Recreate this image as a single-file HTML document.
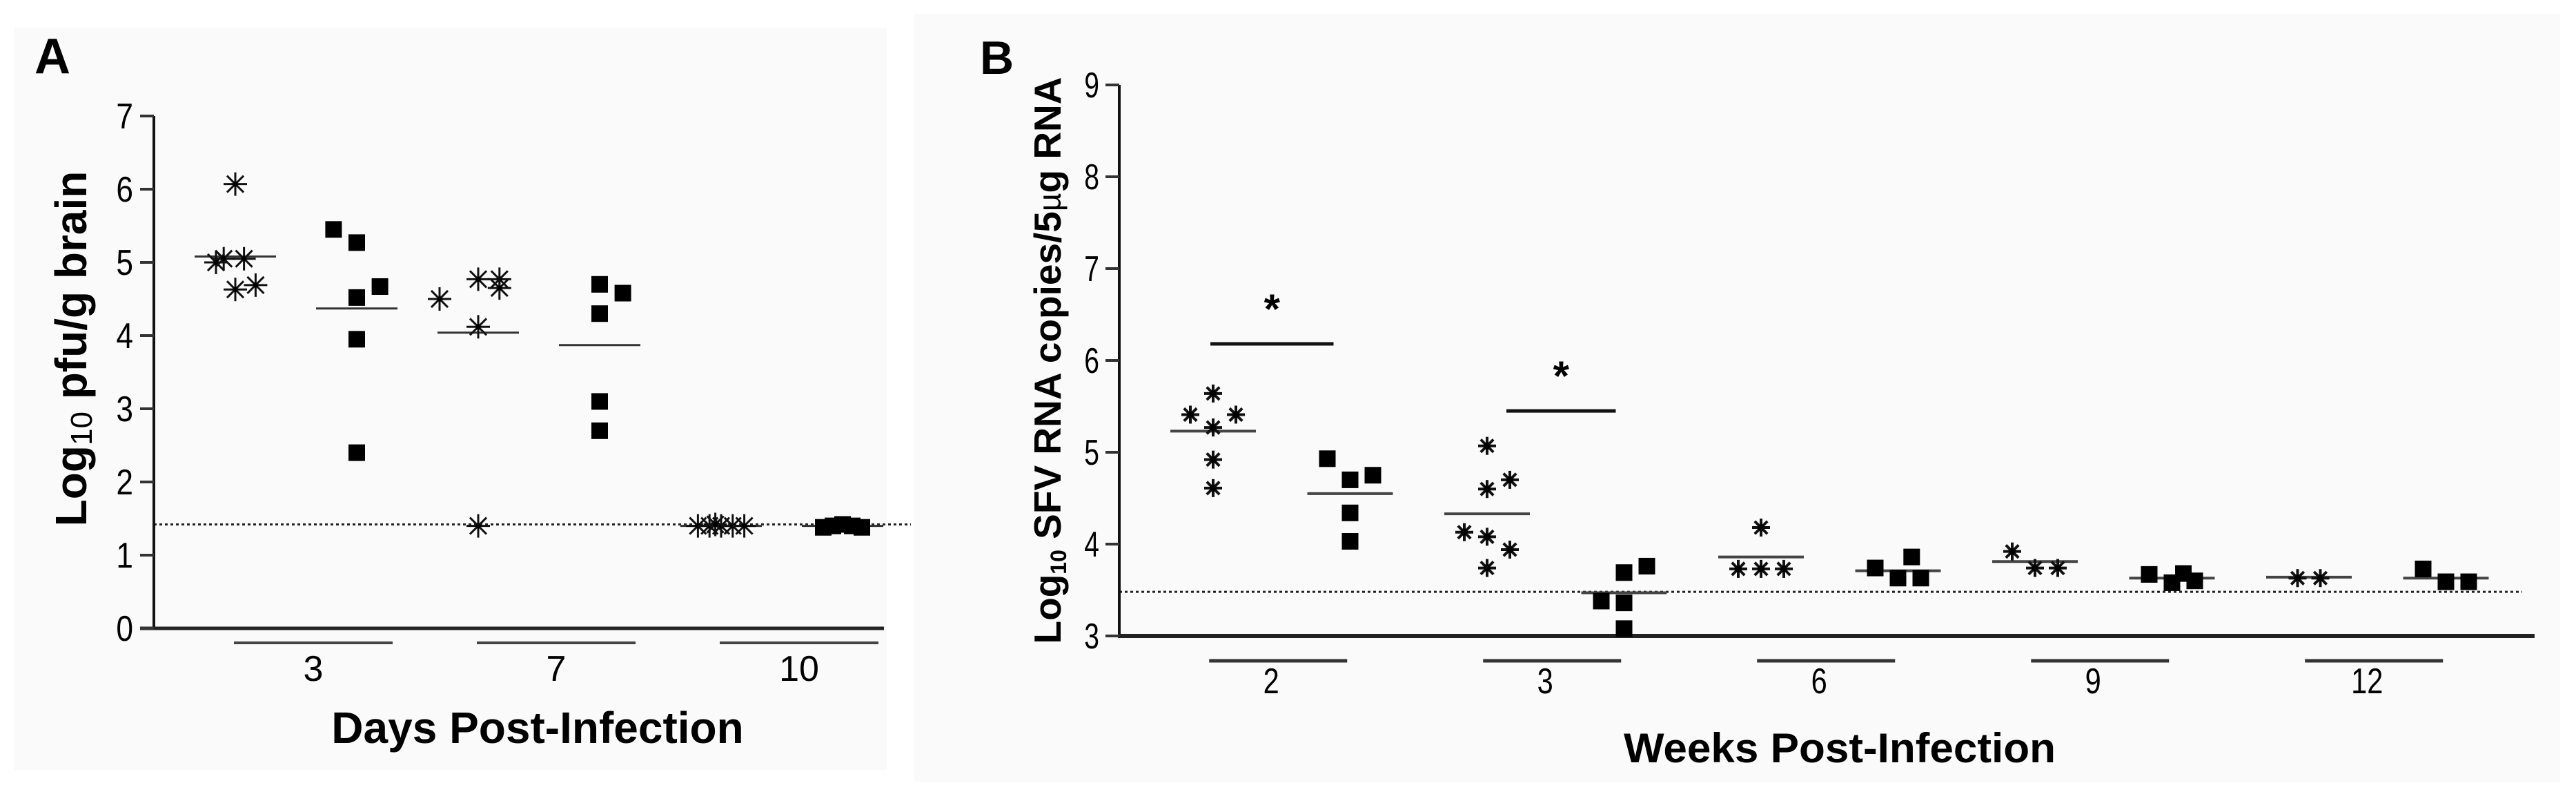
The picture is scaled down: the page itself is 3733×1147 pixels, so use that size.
<!DOCTYPE html>
<html><head><meta charset="utf-8"><style>
html,body{margin:0;padding:0;background:#fff;width:3733px;height:1147px;overflow:hidden}
svg{display:block;font-family:"Liberation Sans",Arial,sans-serif}
</style></head><body>
<svg id="fig" width="3733" height="1147" viewBox="0 0 3733 1147">
<rect x="20" y="40" width="1265" height="1075" fill="#fafafa"/>
<rect x="1325" y="20" width="2385" height="1112" fill="#fafafa"/>
<g id="pa"></g>
<g id="pb"></g>
</svg>
<script>
// ---- Panel A data ----
const aDays = ["3","7","10"];
const aGroupType = ["star","square","star","square","star","square"];
const aValues = [
  [6.07,5.0,5.05,5.05,4.63,4.69],
  [5.45,5.27,4.52,4.67,3.95,2.4],
  [4.5,4.77,4.77,4.65,4.12,1.4],
  [4.7,4.58,4.3,3.1,2.7],
  [1.4,1.4,1.4,1.4,1.4,1.42],
  [1.38,1.4,1.42,1.4,1.38]
];
const aMeans = [5.08,4.37,4.04,3.87,1.4,1.4];
const aJitter = [[0,-1,-0.6,0.45,0,1.05],[-1.2,0,0,1.2,0,0],[-2,0,1.1,1.1,0,0],[0,1.2,0,0,0],[-1.2,-0.6,0,0.6,1.2,-0.3],[-1,-0.5,0,0.5,1]];
const aTicks = [0,1,2,3,4,5,6,7];
const aDetect = 1.42;
// ---- Panel B data ----
const bWeeks = ["2","3","6","9","12"];
const bValues = [
  [5.64,5.41,5.41,5.27,4.92,4.61],
  [4.93,4.75,4.70,4.34,4.03],
  [5.07,4.60,4.70,4.13,4.08,3.94,3.74],
  [3.76,3.69,3.38,3.36,3.08],
  [4.18,3.73,3.73,3.73],
  [3.74,3.86,3.63,3.63],
  [3.92,3.74,3.74],
  [3.67,3.68,3.58,3.60],
  [3.63,3.63],
  [3.73,3.59,3.59]
];
const bMeans = [5.23,4.55,4.33,3.47,3.86,3.71,3.81,3.63,3.64,3.63];
const bJitter = [[0,-1,1,0,0,0],[-1,1,0,0,0],[0,0,1,-1,0,1,0],[1,0,-1,0,0],[0,-1,0,1],[-1,0.6,0,1],[-1,0,1],[-1,0.5,0,1],[-0.5,0.5],[-1,0,1]];
const bTicks = [3,4,5,6,7,8,9];
const bDetect = 3.48;
const bSigY = [6.18,5.45];
const bSigGroups = [0,2];

const NS="http://www.w3.org/2000/svg";
function mk(parent,tag,attrs,text){const e=document.createElementNS(NS,tag);for(const k in attrs)e.setAttribute(k,attrs[k]);if(text!==undefined)e.textContent=text;parent.appendChild(e);return e;}
function star(g,cx,cy,r,w,name){
  const s=mk(g,"g",{});
  
  
  for(let i=0;i<4;i++){const a=i*Math.PI/4;mk(s,"line",{x1:cx-r*Math.cos(a),y1:cy-r*Math.sin(a),x2:cx+r*Math.cos(a),y2:cy+r*Math.sin(a),stroke:"#111","stroke-width":w});}
  mk(s,"circle",{cx:cx,cy:cy,r:w*1.2,fill:"#000"});
}
function square(g,cx,cy,sz,name){
  const r=mk(g,"rect",{x:cx-sz/2,y:cy-sz/2,width:sz,height:sz,fill:"#000"});
  
  
}

// ---- Panel A ----
(function(){
const g=document.getElementById("pa");
const ax0=223, ax1=1281, y0=910, unit=106;
const yA=v=>y0-v*unit;
const xA=i=>341+i*176;
const jw=28;
let t=mk(g,"text",{x:50,y:106,"font-size":72,"font-weight":"bold"},"A");

let dl=mk(g,"line",{x1:ax0,x2:1320,y1:yA(aDetect),y2:yA(aDetect),stroke:"#222","stroke-width":3,"stroke-dasharray":"4 4"});

let ya=mk(g,"line",{x1:ax0,x2:ax0,y1:yA(7),y2:y0+2,stroke:"#111","stroke-width":4});

let xa=mk(g,"line",{x1:ax0-20,x2:ax1,y1:y0,y2:y0,stroke:"#222","stroke-width":5});

aTicks.forEach(v=>{
  const tk=mk(g,"line",{x1:ax0-20,x2:ax0,y1:yA(v),y2:yA(v),stroke:"#333","stroke-width":4});
  
  const tl=mk(g,"text",{x:193,y:yA(v)+18,"font-size":52,"text-anchor":"end",transform:`translate(193,0) scale(0.85,1) translate(-193,0)`},String(v));
  
});
const yt=mk(g,"text",{x:0,y:0,"font-size":64,"font-weight":"bold","text-anchor":"middle",transform:"translate(125,505) rotate(-90)"});

mk(yt,"tspan",{},"Log");mk(yt,"tspan",{"font-size":44,"font-weight":"normal",dy:8},"10");mk(yt,"tspan",{dy:-8}," pfu/g brain");
aDays.forEach((d,k)=>{
  const c=(xA(2*k)+xA(2*k+1))/2+25;
  const l=mk(g,"line",{x1:c-115,x2:c+115,y1:931,y2:931,stroke:"#444","stroke-width":4});
  
  const tl=mk(g,"text",{x:c,y:986,"font-size":52,"text-anchor":"middle"},d);
  
});
const xt=mk(g,"text",{x:779,y:1076,"font-size":64,"font-weight":"bold","text-anchor":"middle"},"Days Post-Infection");

aValues.forEach((vals,i)=>{
  const cx=xA(i);
  const m=mk(g,"line",{x1:cx-59,x2:cx+59,y1:yA(aMeans[i]),y2:yA(aMeans[i]),stroke:"#333","stroke-width":3});
  
  vals.forEach((v,j)=>{
    const px=cx+aJitter[i][j]*jw, py=yA(v);
    if(aGroupType[i]==="star") star(g,px,py,17,3,'star-point-a'); else square(g,px,py,24,'square-point-a');
  });
});
})();

// ---- Panel B ----
(function(){
const g=document.getElementById("pb");
const ax0=1622, ax1=3673, y0=921, unit=133;
const yB=v=>y0-(v-3)*unit;
const xB=i=>1758+i*198.5;
const jw=33;
let t=mk(g,"text",{x:1420,y:107,"font-size":68,"font-weight":"bold"},"B");

let dl=mk(g,"line",{x1:ax0,x2:3655,y1:yB(bDetect),y2:yB(bDetect),stroke:"#222","stroke-width":3,"stroke-dasharray":"4 4"});

let ya=mk(g,"line",{x1:ax0,x2:ax0,y1:yB(9),y2:y0+2,stroke:"#111","stroke-width":4});

let xa=mk(g,"line",{x1:ax0-2,x2:ax1,y1:y0,y2:y0,stroke:"#222","stroke-width":6});

bTicks.forEach(v=>{
  const tk=mk(g,"line",{x1:ax0-20,x2:ax0,y1:yB(v),y2:yB(v),stroke:"#333","stroke-width":4});
  
  const tl=mk(g,"text",{x:1593,y:yB(v)+18,"font-size":52,"text-anchor":"end",transform:`translate(1593,0) scale(0.75,1) translate(-1593,0)`},String(v));
  
});
const yt=mk(g,"text",{x:0,y:0,"font-size":55,"font-weight":"bold","text-anchor":"middle",transform:"translate(1537,522) rotate(-90)"});

mk(yt,"tspan",{},"Log");mk(yt,"tspan",{"font-size":32,dy:8},"10");mk(yt,"tspan",{dy:-8}," SFV RNA copies/5");mk(yt,"tspan",{"font-weight":"normal","font-size":46},"µ");mk(yt,"tspan",{},"g RNA");
bWeeks.forEach((w,k)=>{
  const c=(xB(2*k)+xB(2*k+1))/2-5;
  const l=mk(g,"line",{x1:c-100,x2:c+100,y1:957,y2:957,stroke:"#333","stroke-width":5});
  
  const tl=mk(g,"text",{x:c-10,y:1004,"font-size":52,"text-anchor":"middle",transform:`translate(${c-10},0) scale(0.8,1) translate(${-(c-10)},0)`},w);
  
});
const xt=mk(g,"text",{x:2666,y:1104,"font-size":60,"font-weight":"bold","text-anchor":"middle",textLength:626,lengthAdjust:"spacingAndGlyphs"},"Weeks Post-Infection");

bSigY.forEach((v,k)=>{
  const i=bSigGroups[k];
  const x1=xB(i)+(k===0?-4:28), x2=xB(i+1)-(k===0?24:12);
  const l=mk(g,"line",{x1:x1,x2:x2,y1:yB(v),y2:yB(v),stroke:"#111","stroke-width":5});
  
  const s=mk(g,"text",{x:(x1+x2)/2,y:yB(v)-30,"font-size":60,"font-weight":"bold","text-anchor":"middle"},"*");
  
});
bValues.forEach((vals,i)=>{
  const cx=xB(i);
  const m=mk(g,"line",{x1:cx-62,x2:cx+62,y1:yB(bMeans[i]),y2:yB(bMeans[i]),stroke:"#444","stroke-width":4});
  
  vals.forEach((v,j)=>{
    const px=cx+bJitter[i][j]*jw, py=yB(v);
    if(i%2===0) star(g,px,py,13,4,'star-point-b'); else square(g,px,py,24,'square-point-b');
  });
});
})();
</script>
</body></html>
